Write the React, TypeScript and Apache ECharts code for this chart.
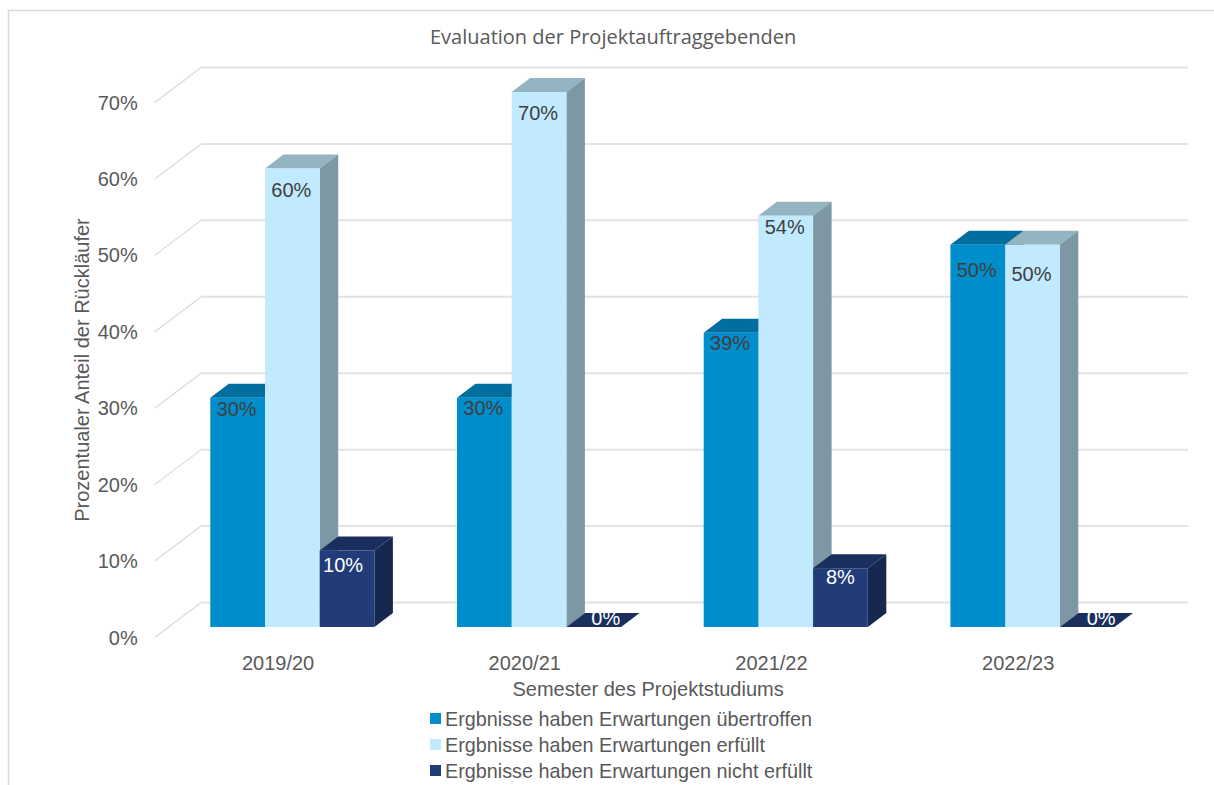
import React, { useEffect, useRef } from "react";
import * as echarts from "echarts";

const titleText = "Evaluation der Projektauftraggebenden";
const semesters = ["2019/20", "2020/21", "2021/22", "2022/23"];
const seriesNames = [
  "Ergbnisse haben Erwartungen übertroffen",
  "Ergbnisse haben Erwartungen erfüllt",
  "Ergbnisse haben Erwartungen nicht erfüllt",
];
const exceeded = [30, 30, 38.5, 50];
const met = [60, 70, 53.8, 50];
const notMet = [10, 0, 7.7, 0];
const yTicks = [0, 10, 20, 30, 40, 50, 60, 70];

const seriesValues = [exceeded, met, notMet];
const frontColors = ["#008DCC", "#C1EAFF", "#223C7A"];
const topColors = ["#006E9F", "#93B4C0", "#1B2F5E"];
const sideColors = ["#005E88", "#7E97A5", "#162750"];
const labelColors = ["#404040", "#404040", "#FFFFFF"];
const labelOffsets = [
  [[-1, 11], [-1, 10], [-1, 10], [-1, 25]],
  [[-1, 22], [-1, 21], [-1, 11], [-1, 29]],
  [[-4, 14], [12, -9], [0, 9], [14, -9]],
];

const FONT = '"Liberation Sans", Arial, sans-serif';
const BAR_RATIO = 54.7 / 246.7;
const FRONT_DX = 14.3;
const FRONT_DY = -10.5;
const BAR_DX = 18.5;
const BAR_DY = -14;
const WALL_DX = 46.5;
const WALL_DY = -35;

const barRender = (sIdx: number) => (params: any, api: any) => {
  const cat = api.value(0);
  const val = api.value(1);
  const base = api.coord([cat, 0]);
  const top = api.coord([cat, val]);
  const band = api.size([1, 0])[0];
  const w = band * BAR_RATIO;
  const x0 = base[0] + FRONT_DX + (sIdx - 1.5) * w;
  const x1 = x0 + w;
  const yB = base[1] + FRONT_DY;
  const yT = top[1] + FRONT_DY;
  const off = labelOffsets[sIdx][cat];
  const children: any[] = [
    {
      type: "polygon",
      shape: { points: [[x0, yT], [x1, yT], [x1 + BAR_DX, yT + BAR_DY], [x0 + BAR_DX, yT + BAR_DY]] },
      style: { fill: topColors[sIdx] },
    },
    {
      type: "polygon",
      shape: { points: [[x1, yT], [x1 + BAR_DX, yT + BAR_DY], [x1 + BAR_DX, yB + BAR_DY], [x1, yB]] },
      style: { fill: sideColors[sIdx] },
    },
    {
      type: "rect",
      shape: { x: x0, y: yT, width: w, height: yB - yT },
      style: { fill: frontColors[sIdx] },
    },
    {
      type: "text",
      style: {
        x: (x0 + x1) / 2 + off[0],
        y: yT + off[1],
        text: Math.round(val) + "%",
        fill: labelColors[sIdx],
        font: `20px ${FONT}`,
        align: "center",
        verticalAlign: "middle",
      },
    },
  ];
  return { type: "group", children };
};

const gridRender = (params: any, api: any) => {
  const p = api.coord([0, api.value(0)]);
  const cs = params.coordSys;
  const xL = cs.x;
  const y = p[1];
  return {
    type: "group",
    children: [
      {
        type: "line",
        shape: { x1: xL, y1: y, x2: xL + WALL_DX, y2: y + WALL_DY },
        style: { stroke: "#D9D9D9", lineWidth: 1.2 },
      },
      {
        type: "line",
        shape: { x1: xL + WALL_DX, y1: y + WALL_DY, x2: xL + WALL_DX + cs.width, y2: y + WALL_DY },
        style: { stroke: "#E2E2E2", lineWidth: 2 },
      },
    ],
  };
};

export default function App() {
  const ref = useRef<HTMLDivElement>(null);
  useEffect(() => {
    const chart = echarts.init(ref.current!, undefined, { renderer: "svg" });
    chart.setOption({
      animation: false,
      backgroundColor: "#FFFFFF",
      title: {
        text: titleText,
        left: 425,
        top: 21,
        textStyle: { fontFamily: '"Open Sans", sans-serif', fontSize: 20, fontWeight: "normal", color: "#595959" },
      },
      grid: { left: 154.7, top: 102.5, width: 986.8, height: 535 },
      legend: {
        orient: "vertical",
        left: 430,
        top: 708,
        padding: 0,
        itemWidth: 11,
        itemHeight: 11,
        itemGap: 5,
        icon: "rect",
        data: seriesNames,
        textStyle: { fontFamily: FONT, fontSize: 19.8, color: "#595959", padding: [0, 0, 0, -1], lineHeight: 21 },
      },
      xAxis: {
        type: "category",
        data: semesters,
        name: "Semester des Projektstudiums",
        nameLocation: "middle",
        nameGap: 41,
        nameMoveOverlap: false,
        nameTextStyle: { fontFamily: FONT, fontSize: 20, color: "#595959" },
        axisLine: { show: false },
        axisTick: { show: false },
        axisLabel: { fontFamily: FONT, fontSize: 20, color: "#595959", margin: 15 },
      },
      yAxis: {
        type: "value",
        min: 0,
        max: 70,
        interval: 10,
        name: "Prozentualer Anteil der Rückläufer",
        nameLocation: "middle",
        nameGap: 63,
        nameMoveOverlap: false,
        nameTextStyle: { fontFamily: FONT, fontSize: 20, color: "#595959" },
        axisLine: { show: false },
        axisTick: { show: false },
        splitLine: { show: false },
        axisLabel: { formatter: "{value}%", fontFamily: FONT, fontSize: 20, color: "#595959", margin: 17, padding: [2, 0, 0, 0] },
      },
      graphic: [
        {
          type: "polyline",
          shape: { points: [[1214, 10.5], [8.5, 10.5], [8.5, 785]] },
          style: { fill: "none", stroke: "#D9D9D9", lineWidth: 1.5 },
          silent: true,
        },
      ],
      series: [
        {
          type: "custom",
          name: "grid",
          coordinateSystem: "cartesian2d",
          renderItem: gridRender,
          data: yTicks.map((t) => [t]),
          encode: { y: 0 },
          silent: true,
          z: 1,
        },
        ...seriesNames.map((name, sIdx) => ({
          type: "custom",
          name,
          coordinateSystem: "cartesian2d",
          renderItem: barRender(sIdx),
          data: semesters.map((_, i) => [i, seriesValues[sIdx][i]]),
          encode: { x: 0, y: 1 },
          itemStyle: { color: frontColors[sIdx] },
          clip: false,
          z: 2 + sIdx,
        })),
      ],
    });
    return () => chart.dispose();
  }, []);
  return <div ref={ref} style={{ position: "absolute", left: 0, top: 0, width: 1214, height: 785 }} />;
}
